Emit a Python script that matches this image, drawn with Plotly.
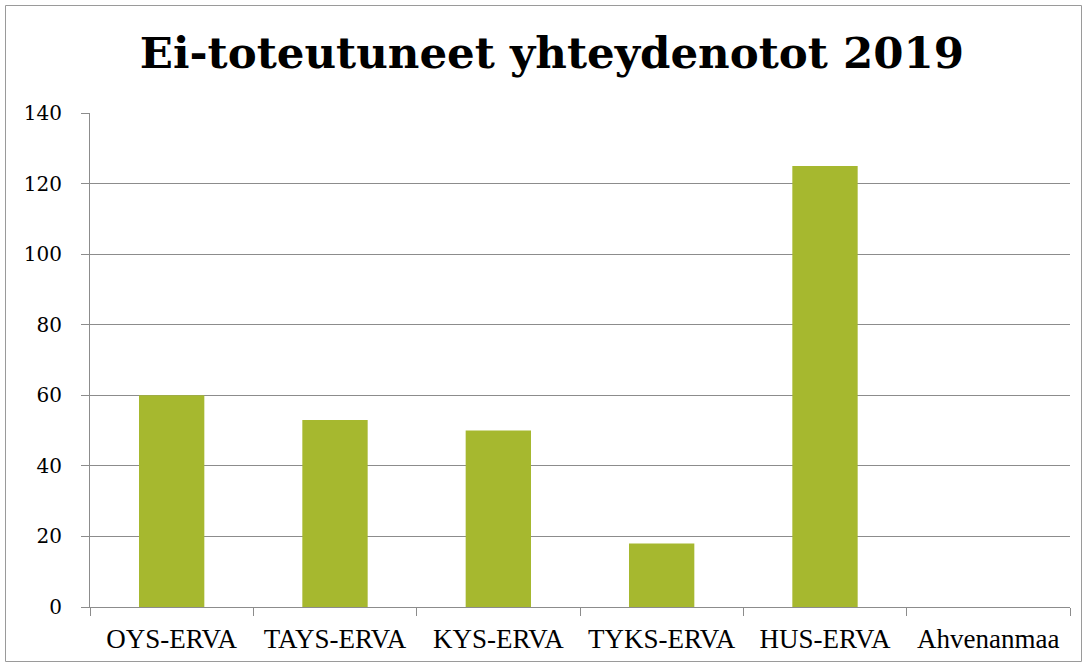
import plotly.graph_objects as go

categories = ["OYS-ERVA", "TAYS-ERVA", "KYS-ERVA", "TYKS-ERVA", "HUS-ERVA", "Ahvenanmaa"]
values = [60, 53, 50, 18, 125, 0]
y_ticks = [0, 20, 40, 60, 80, 100, 120, 140]
title_text = "Ei-toteutuneet yhteydenotot 2019"

W, H = 1085, 665
ML, MR, MT, MB = 90, 15, 113, 58
PW, PH = W - ML - MR, H - MT - MB

fig = go.Figure(go.Bar(x=categories, y=values, marker_color="#A6B82F", marker_line_width=0))

def px_x(p):
    return (p - ML) / PW

def px_y(p):
    return 1 - (p - MT) / PH

fig.update_layout(
    width=W, height=H,
    margin=dict(l=ML, r=MR, t=MT, b=MB),
    paper_bgcolor="white", plot_bgcolor="white",
    bargap=0.6,
    showlegend=False,
    title=dict(text=title_text, x=552 / W, xref="container", xanchor="center",
               y=1 - 53 / H, yanchor="middle",
               font=dict(family="DejaVu Serif", size=43.5, color="black", weight="bold")),
    shapes=[dict(type="rect", xref="paper", yref="paper",
                 x0=px_x(5.5), x1=px_x(1081.5), y0=px_y(661.5), y1=px_y(5.5),
                 line=dict(color="#9a9a9a", width=1), fillcolor="rgba(0,0,0,0)", layer="below")],
)
fig.update_xaxes(
    type="category", tickson="boundaries", ticks="outside", ticklen=8, tickcolor="#8c8c8c",
    showline=True, linecolor="#8c8c8c", linewidth=1, showgrid=False,
    ticklabelstandoff=8,
    tickfont=dict(family="Liberation Serif", size=27, color="black"),
)
fig.update_yaxes(
    range=[0, 140], tickvals=y_ticks, ticks="outside", ticklen=8, tickcolor="#8c8c8c",
    showline=True, linecolor="#8c8c8c", linewidth=1,
    showgrid=True, gridcolor="#8c8c8c", gridwidth=1, zeroline=False,
    ticklabelstandoff=15,
    tickfont=dict(family="DejaVu Serif", size=20, color="black"),
)
fig.write_html("out.html", config={"displayModeBar": False},
               post_script="document.body.style.margin='0';document.body.style.overflow='hidden';")
